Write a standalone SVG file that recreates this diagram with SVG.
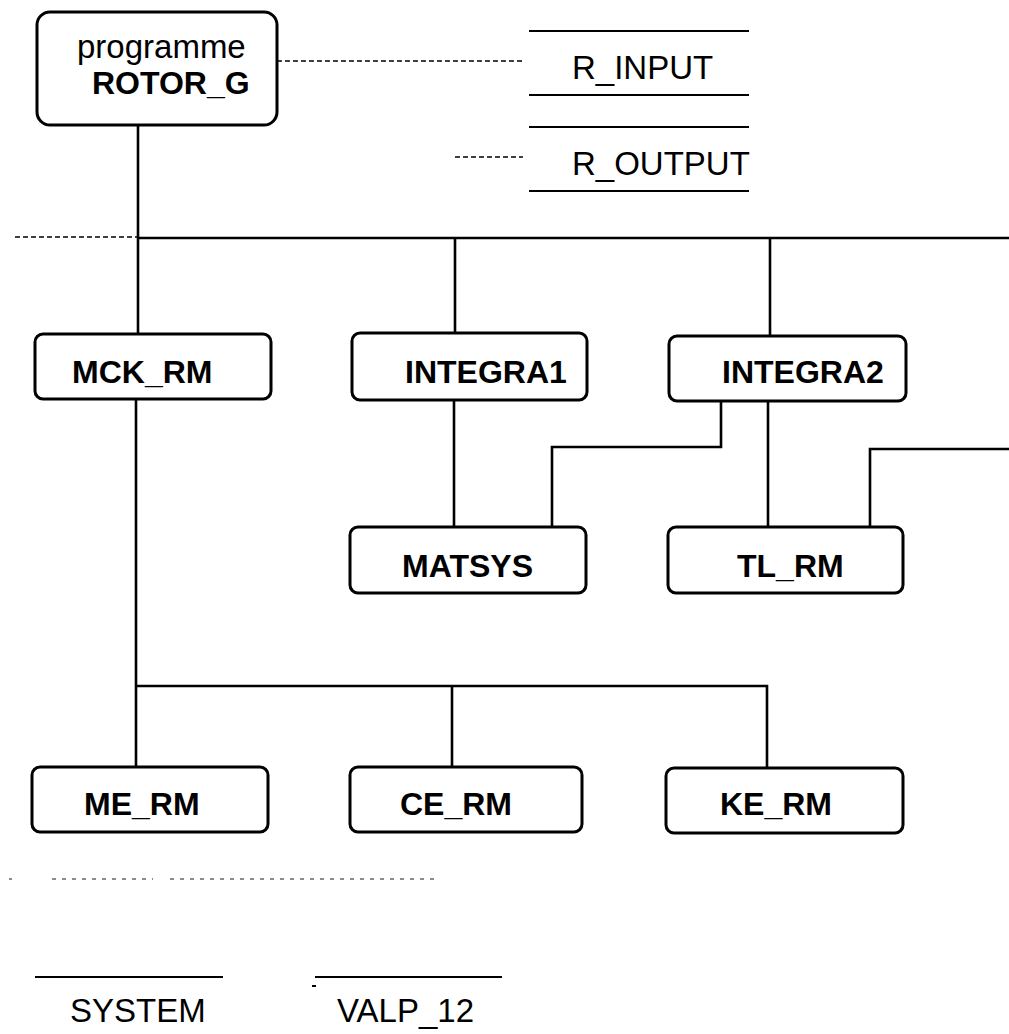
<svg xmlns="http://www.w3.org/2000/svg" width="1009" height="1034" viewBox="0 0 1009 1034">
  <style>
    .box { fill: #fff; stroke: #000; stroke-width: 3; }
    .wire { fill: none; stroke: #000; stroke-width: 2.6; }
    .dash { fill: none; stroke: #000; stroke-width: 1.6; stroke-dasharray: 5 3; }
    .dots { fill: none; stroke: #666; stroke-width: 1.5; stroke-dasharray: 4 6; }
    .rule { fill: none; stroke: #000; stroke-width: 2; }
    .lbl { font-family: "Liberation Sans", Arial, sans-serif; font-size: 32px; font-weight: bold; fill: #000; }
    .reg { font-family: "Liberation Sans", Arial, sans-serif; font-size: 33px; fill: #000; }
  </style>

  <!-- connectors -->
  <g id="connectors">
    <!-- main program down to bus and MCK_RM -->
    <path class="wire" d="M138 125 V334"/>
    <!-- bus -->
    <path class="wire" d="M138 238 H1009"/>
    <path class="dash" d="M15 237 H138"/>
    <path class="wire" d="M455 238 V333"/>
    <path class="wire" d="M770 238 V336"/>
    <!-- INTEGRA1 to MATSYS -->
    <path class="wire" d="M454 400 V527"/>
    <!-- INTEGRA2 to MATSYS -->
    <path class="wire" d="M721 401 V447 H552 V527"/>
    <!-- INTEGRA2 to TL_RM -->
    <path class="wire" d="M768 401 V527"/>
    <!-- TL_RM off to the right -->
    <path class="wire" d="M870 527 V449 H1009"/>
    <!-- MCK_RM sub-tree -->
    <path class="wire" d="M136 399 V767"/>
    <path class="wire" d="M136 686 H767 V768"/>
    <path class="wire" d="M452 686 V767"/>
    <!-- data links -->
    <path class="dash" d="M277 61 H523"/>
    <path class="dash" d="M455 157 H523"/>
    <!-- dotted separator -->
    <path class="dots" d="M9 879 H12 M52 879 H153 M170 879 H440"/>
  </g>

  <!-- main program -->
  <g id="rotor_g">
    <rect class="box" x="37" y="12" width="240" height="113" rx="13"/>
    <text class="reg" x="77" y="58" font-size="31">programme</text>
    <text class="lbl" x="92" y="94" font-size="30">ROTOR_G</text>
  </g>

  <!-- data stores -->
  <g id="r_input">
    <path class="rule" d="M529 31 H749 M529 95 H749"/>
    <text class="reg" x="572" y="79">R_INPUT</text>
  </g>
  <g id="r_output">
    <path class="rule" d="M529 127 H749 M529 191 H749"/>
    <text class="reg" x="572" y="175">R_OUTPUT</text>
  </g>

  <!-- subroutines -->
  <g id="mck_rm">
    <rect class="box" x="35" y="334" width="236" height="65" rx="8"/>
    <text class="lbl" x="72" y="383">MCK_RM</text>
  </g>
  <g id="integra1">
    <rect class="box" x="352" y="333" width="235" height="67" rx="8"/>
    <text class="lbl" x="405" y="383">INTEGRA1</text>
  </g>
  <g id="integra2">
    <rect class="box" x="669" y="336" width="237" height="65" rx="8"/>
    <text class="lbl" x="722" y="383">INTEGRA2</text>
  </g>
  <g id="matsys">
    <rect class="box" x="350" y="527" width="236" height="66" rx="8"/>
    <text class="lbl" x="402" y="577">MATSYS</text>
  </g>
  <g id="tl_rm">
    <rect class="box" x="668" y="527" width="235" height="66" rx="8"/>
    <text class="lbl" x="737" y="577">TL_RM</text>
  </g>
  <g id="me_rm">
    <rect class="box" x="32" y="767" width="236" height="65" rx="8"/>
    <text class="lbl" x="84" y="815">ME_RM</text>
  </g>
  <g id="ce_rm">
    <rect class="box" x="350" y="767" width="232" height="65" rx="8"/>
    <text class="lbl" x="400" y="815">CE_RM</text>
  </g>
  <g id="ke_rm">
    <rect class="box" x="666" y="768" width="237" height="65" rx="8"/>
    <text class="lbl" x="720" y="815">KE_RM</text>
  </g>

  <!-- bottom stores -->
  <g id="system">
    <path class="rule" d="M35 977 H223"/>
    <text class="reg" x="70" y="1022" font-size="29">SYSTEM</text>
  </g>
  <g id="valp_12">
    <path class="rule" d="M315 977 H502 M312 986 H316"/>
    <text class="reg" x="337" y="1022" font-size="31">VALP_12</text>
  </g>
</svg>
